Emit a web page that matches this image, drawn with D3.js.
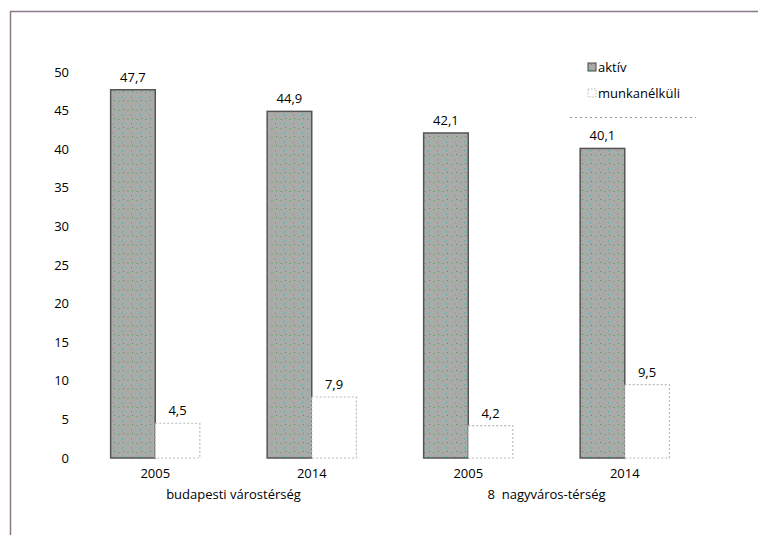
<!DOCTYPE html>
<html><head><meta charset="utf-8">
<script src="https://cdn.jsdelivr.net/npm/d3@7"></script>
<style>body{margin:0;background:#fff;} svg{display:block;font-family:"Open Sans","Liberation Sans",sans-serif;}</style>
</head><body>
<svg id="chart" width="758" height="535"></svg>
<script>
const categories = ["2005", "2014", "2005", "2014"];
const groupLabels = ["budapesti várostérség", "8\u00a0 nagyváros-térség"];
const seriesNames = ["aktív", "munkanélküli"];
const aktiv = [47.7, 44.9, 42.1, 40.1];
const munkanelkuli = [4.5, 7.9, 4.2, 9.5];
const yTicks = [0, 5, 10, 15, 20, 25, 30, 35, 40, 45, 50];

const svg = d3.select("#chart");
// frame
svg.append("path").attr("d", "M10.5,535 L10.5,11.5 L758,11.5").attr("fill","none").attr("stroke","#8a7a8a").attr("stroke-width",1.5);

const x = d3.scaleBand().domain(d3.range(categories.length)).range([77, 703]).paddingInner(0.43).paddingOuter(0.215);
const xs = d3.scaleBand().domain([0,1]).range([0, x.bandwidth()]);
const y = d3.scaleLinear().domain([0, 50]).range([458, 72]);

// pattern for the noisy gray bar
const defs = svg.append("defs");
const pat = defs.append("pattern").attr("id","noise").attr("width",9).attr("height",9).attr("patternUnits","userSpaceOnUse");
pat.append("rect").attr("width",9).attr("height",9).attr("fill","#a9aba9");
pat.append("rect").attr("x",1).attr("y",2).attr("width",2).attr("height",1).attr("fill","#6aae78");
pat.append("rect").attr("x",5).attr("y",6).attr("width",1).attr("height",2).attr("fill","#5ab4b4");
pat.append("rect").attr("x",6).attr("y",1).attr("width",1).attr("height",1).attr("fill","#5a8a65");

const ya = d3.axisLeft(y).tickValues(yTicks).tickSize(0).tickPadding(0);
const yg = svg.append("g").attr("transform","translate(69,0)").call(ya);
yg.select(".domain").remove();
yg.selectAll("text").attr("font-size",13).attr("fill","#000").attr("font-family","'Open Sans','Liberation Sans',sans-serif");

const series = [aktiv, munkanelkuli];
series.forEach((vals, si) => {
  const g = svg.append("g");
  g.selectAll("rect").data(vals).enter().append("rect")
    .attr("x", (d,i) => x(i) + xs(si))
    .attr("y", d => y(d))
    .attr("width", xs.bandwidth())
    .attr("height", d => y(0) - y(d))
    .attr("fill", si === 0 ? "url(#noise)" : "#fff")
    .attr("stroke", si === 0 ? "#555" : "#bbb")
    .attr("stroke-width", si === 0 ? 1.5 : 1.2)
    .attr("stroke-dasharray", si === 0 ? null : "2,2");
  g.selectAll("text").data(vals).enter().append("text")
    .attr("x", (d,i) => x(i) + xs(si) + xs.bandwidth()/2)
    .attr("y", d => y(d) - 8)
    .attr("text-anchor","middle").attr("font-size",13).attr("fill","#000")
    .text(d => d3.format(".1f")(d).replace(".", ","));
});

// x labels
const xa = d3.axisBottom(x).tickFormat(i => categories[i]).tickSize(0).tickPadding(0);
const xg = svg.append("g").attr("transform","translate(0,469)").call(xa);
xg.select(".domain").remove();
xg.selectAll("text").attr("font-size",13).attr("fill","#000").attr("dy","0.71em").attr("font-family","'Open Sans','Liberation Sans',sans-serif");

groupLabels.forEach((lab, gi) => {
  const cx = (x(gi*2) + x(gi*2+1) + x.bandwidth())/2;
  svg.append("text").attr("x", cx).attr("y", 499).attr("text-anchor","middle")
    .attr("font-size",13).attr("fill","#000").text(lab);
});

// legend
const lg = svg.append("g");
lg.append("rect").attr("x",588).attr("y",63).attr("width",8).attr("height",8).attr("fill","url(#noise)").attr("stroke","#444").attr("stroke-width",1);
lg.append("rect").attr("x",588).attr("y",89).attr("width",8).attr("height",8).attr("fill","#fff").attr("stroke","#bbb").attr("stroke-dasharray","1.5,1.5");
lg.append("text").attr("x",598).attr("y",72).attr("font-size",13).attr("fill","#000").text(seriesNames[0]);
lg.append("text").attr("x",598).attr("y",98).attr("font-size",13).attr("fill","#000").text(seriesNames[1]);
lg.append("line").attr("x1",570).attr("x2",696).attr("y1",117.5).attr("y2",117.5).attr("stroke","#999").attr("stroke-dasharray","2,3");
</script>
</body></html>
